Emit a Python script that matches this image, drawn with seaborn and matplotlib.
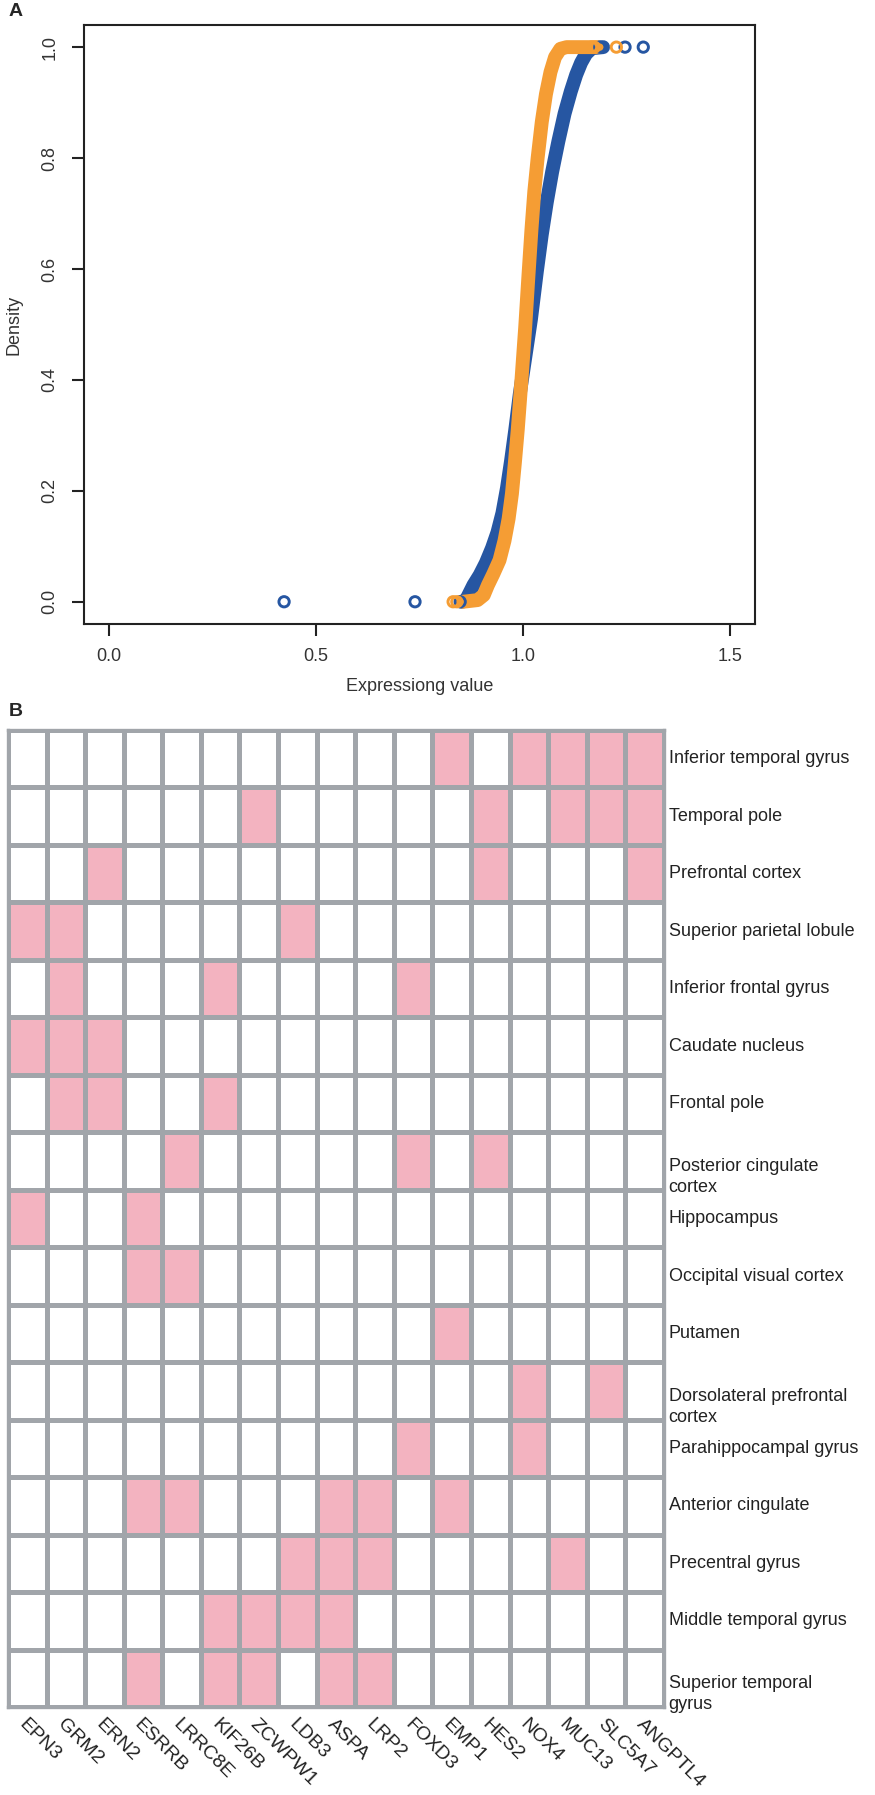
import matplotlib
matplotlib.use("Agg")
import matplotlib.pyplot as plt
from matplotlib.colors import ListedColormap
import seaborn as sns
import pandas as pd
import numpy as np

# panel A: cumulative curves (x = expression value, y = density)
blue_x = [0.852, 0.862, 0.870, 0.880, 0.895, 0.910, 0.925, 0.938, 0.950, 0.961, 0.971, 0.981,
          0.992, 1.005, 1.019, 1.033, 1.045, 1.057, 1.070, 1.085, 1.100, 1.115, 1.128, 1.140,
          1.152, 1.166, 1.193]
blue_y = [0.000, 0.003, 0.015, 0.030, 0.048, 0.070, 0.097, 0.125, 0.160, 0.205, 0.255, 0.310,
          0.375, 0.440, 0.510, 0.595, 0.662, 0.720, 0.775, 0.830, 0.880, 0.920, 0.950, 0.972,
          0.988, 0.998, 1.000]
orange_x = [0.855, 0.890, 0.905, 0.915, 0.928, 0.943, 0.955, 0.965, 0.973, 0.980, 0.987, 0.996,
            1.005, 1.013, 1.020, 1.027, 1.035, 1.045, 1.055, 1.066, 1.077, 1.090, 1.105, 1.179]
orange_y = [0.000, 0.003, 0.012, 0.030, 0.050, 0.075, 0.110, 0.150, 0.195, 0.250, 0.310, 0.400,
            0.495, 0.590, 0.670, 0.740, 0.800, 0.865, 0.915, 0.955, 0.982, 0.997, 1.000, 1.000]

# single circles that stand apart from the curves
blue_pts_x = [0.423, 0.739, 0.848, 1.185, 1.246, 1.290]
blue_pts_y = [0.0, 0.0, 0.0, 1.0, 1.0, 1.0]
orange_pts_x = [0.831, 0.840, 1.165, 1.172, 1.225]
orange_pts_y = [0.0, 0.0, 1.0, 1.0, 1.0]

x_ticks = [0.0, 0.5, 1.0, 1.5]
y_ticks = [0.0, 0.2, 0.4, 0.6, 0.8, 1.0]

# panel B: genes by brain region
genes = ["EPN3", "GRM2", "ERN2", "ESRRB", "LRRC8E", "KIF26B", "ZCWPW1", "LDB3", "ASPA",
         "LRP2", "FOXD3", "EMP1", "HES2", "NOX4", "MUC13", "SLC5A7", "ANGPTL4"]
regions = ["Inferior temporal gyrus", "Temporal pole", "Prefrontal cortex",
           "Superior parietal lobule", "Inferior frontal gyrus", "Caudate nucleus",
           "Frontal pole", "Posterior cingulate\ncortex", "Hippocampus",
           "Occipital visual cortex", "Putamen", "Dorsolateral prefrontal\ncortex",
           "Parahippocampal gyrus", "Anterior cingulate", "Precentral gyrus",
           "Middle temporal gyrus", "Superior temporal\ngyrus"]
hits = [
    ["EMP1", "NOX4", "MUC13", "SLC5A7", "ANGPTL4"],
    ["ZCWPW1", "HES2", "MUC13", "SLC5A7", "ANGPTL4"],
    ["ERN2", "HES2", "ANGPTL4"],
    ["EPN3", "GRM2", "LDB3"],
    ["GRM2", "KIF26B", "FOXD3"],
    ["EPN3", "GRM2", "ERN2"],
    ["GRM2", "ERN2", "KIF26B"],
    ["LRRC8E", "FOXD3", "HES2"],
    ["EPN3", "ESRRB"],
    ["ESRRB", "LRRC8E"],
    ["EMP1"],
    ["NOX4", "SLC5A7"],
    ["FOXD3", "NOX4"],
    ["ESRRB", "LRRC8E", "ASPA", "LRP2", "EMP1"],
    ["LDB3", "ASPA", "LRP2", "MUC13"],
    ["KIF26B", "ZCWPW1", "LDB3", "ASPA"],
    ["ESRRB", "KIF26B", "ZCWPW1", "ASPA", "LRP2"],
]

BLUE = "#2656a2"
ORANGE = "#f59d34"
PINK = "#f3b3c0"
GRID = "#a1a5aa"

sns.set_theme(style="white")
plt.rcParams["font.family"] = ["Liberation Sans", "DejaVu Sans"]

fig = plt.figure(figsize=(8.75, 17.95), dpi=100)

# ---- panel A
ax = fig.add_axes([0.096, 0.6524, 0.767, 0.3337])
curves = pd.concat([
    pd.DataFrame({"x": blue_x, "y": blue_y, "grp": "blue"}),
    pd.DataFrame({"x": orange_x, "y": orange_y, "grp": "orange"}),
])
for grp, col in [("blue", BLUE), ("orange", ORANGE)]:
    d = curves[curves["grp"] == grp]
    sns.lineplot(data=d, x="x", y="y", sort=False, estimator=None, color=col,
                 linewidth=10.0, solid_capstyle="round", solid_joinstyle="round", ax=ax)
    px, py = (orange_pts_x, orange_pts_y) if grp == "orange" else (blue_pts_x, blue_pts_y)
    sns.scatterplot(x=px, y=py, s=55, facecolor="none", edgecolor=col, linewidth=2.1, ax=ax, zorder=3)

ax.set_xlim(-0.06, 1.56)
ax.set_ylim(-0.04, 1.04)
ax.set_xticks(x_ticks)
ax.set_xticklabels([f"{v:.1f}" for v in x_ticks])
ax.set_yticks(y_ticks)
ax.set_yticklabels([f"{v:.1f}" for v in y_ticks], rotation=90, va="center")
ax.tick_params(axis="both", direction="out", length=8.5, width=1.5, color="#222222",
               labelsize=13, labelcolor="#333333", bottom=True, left=True)
ax.tick_params(axis="x", pad=9)
ax.tick_params(axis="y", pad=10)
for s in ax.spines.values():
    s.set_color("#222222")
    s.set_linewidth(1.5)
ax.set_xlabel("Expressiong value", fontsize=13, color="#333333")
ax.set_ylabel("Density", fontsize=13, color="#333333")
ax.xaxis.set_label_coords(0.5, -0.09)
ax.yaxis.set_label_coords(-0.091, 0.5)
fig.text(0.018, 0.9935, "A", fontsize=14, fontweight="bold", va="center", ha="center")

# ---- panel B
mat = pd.DataFrame(0, index=regions, columns=genes)
for r, gl in zip(regions, hits):
    mat.loc[r, gl] = 1

ax2 = fig.add_axes([0.0091, 0.049, 0.7497, 0.5443])
sns.heatmap(mat, cmap=ListedColormap(["white", PINK]), vmin=0, vmax=1, cbar=False,
            linewidths=2.4, linecolor=GRID, ax=ax2)
for s in ax2.spines.values():
    s.set_visible(True)
    s.set_color(GRID)
    s.set_linewidth(2.4)

ax2.set_xlabel("")
ax2.set_ylabel("")
ax2.set_yticks([])
ax2.set_xticks(np.arange(len(genes)) + 0.5)
ax2.set_xticklabels(genes, rotation=-45, ha="left", va="top", rotation_mode="anchor",
                    fontsize=14, color="#222222")
ax2.tick_params(axis="x", length=0, pad=6)
for i, r in enumerate(regions):
    shift = 0.28 if "\n" in r else 0.0
    ax2.text(len(genes) + 0.12, i + 0.5 + shift, r, ha="left", va="center",
             fontsize=13, color="#222222", linespacing=1.3)
fig.text(0.018, 0.6034, "B", fontsize=14, fontweight="bold", va="center", ha="center")

fig.savefig("out.png", dpi=100)
